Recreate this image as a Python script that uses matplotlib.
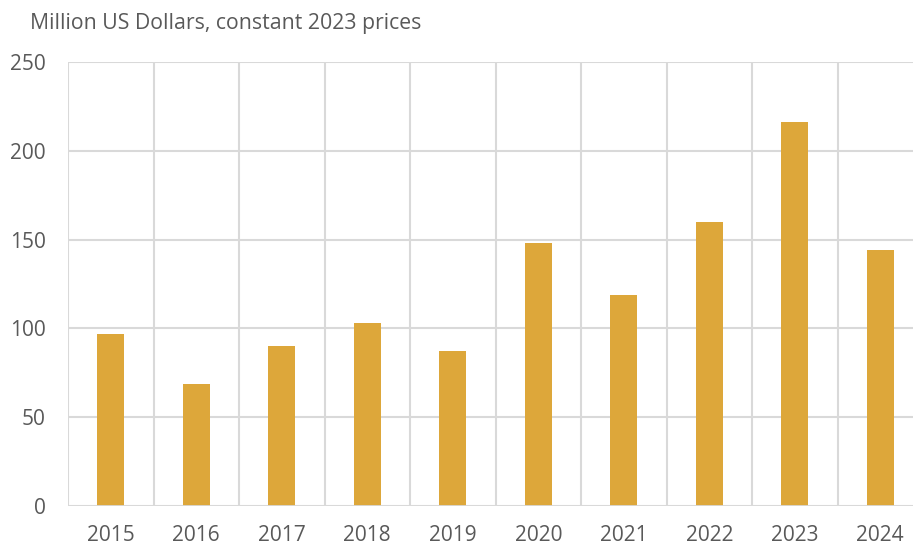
import matplotlib
matplotlib.use('Agg')
import matplotlib.pyplot as plt

# Data
years = ['2015', '2016', '2017', '2018', '2019', '2020', '2021', '2022', '2023', '2024']
values = [97, 68.5, 90, 103, 87, 148, 119, 160, 216, 144]
yticks = [0, 50, 100, 150, 200, 250]

plt.rcParams['font.family'] = ['Open Sans', 'DejaVu Sans']
textcol = '#595959'
gridcol = '#d9d9d9'
barcol = '#dda73a'

fig = plt.figure(figsize=(9.13, 5.47), dpi=100)
ax = fig.add_axes([68 / 913, 1 - 506 / 547, 855 / 913, 444 / 547])

x = range(len(years))
ax.bar(x, values, width=0.32, color=barcol, zorder=3)

ax.set_xlim(-0.5, len(years) - 0.5)
ax.set_ylim(0, 250)
ax.set_yticks(yticks)
ax.set_xticks(list(x))
ax.set_xticklabels(years)

# vertical lines between categories
ax.set_xticks([i + 0.5 for i in range(-1, len(years))], minor=True)
ax.grid(axis='x', which='minor', color=gridcol, linewidth=1.5, zorder=0)
ax.grid(axis='y', which='major', color=gridcol, linewidth=1.5, zorder=0)

for s in ax.spines.values():
    s.set_visible(False)
ax.axhline(0, color=gridcol, linewidth=2, zorder=4)

ax.tick_params(axis='both', which='both', length=0, labelsize=15, labelcolor=textcol)
ax.tick_params(axis='y', pad=16)
ax.tick_params(axis='x', pad=14)

fig.text(30 / 913, 1 - 24 / 547, 'Million US Dollars, constant 2023 prices',
         fontsize=15.3, color=textcol, ha='left', va='center')

fig.savefig('out.png', dpi=100)
